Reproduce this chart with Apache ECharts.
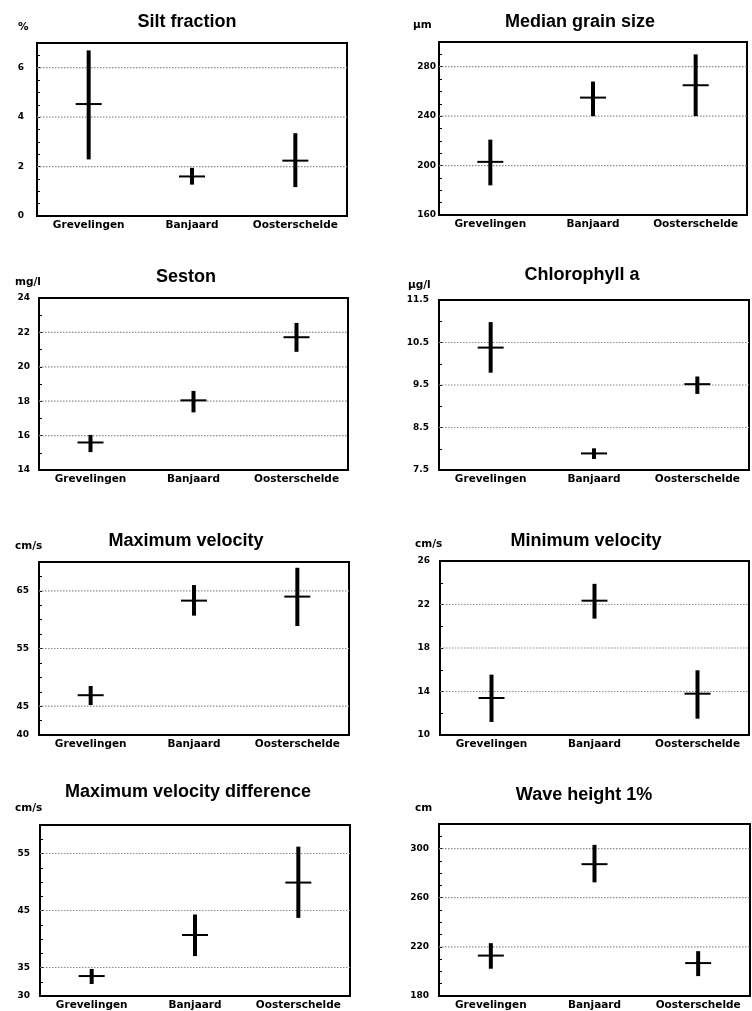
<!DOCTYPE html>
<html>
<head>
<meta charset="utf-8">
<script src="https://cdn.jsdelivr.net/npm/echarts@6/dist/echarts.min.js"></script>
<style>
html,body{margin:0;padding:0;background:#fff;}
#chart{width:752px;height:1011px;}
</style>
</head>
<body>
<div id="chart"></div>
<script>
// ---------- DATA ----------
const categories = ['Grevelingen', 'Banjaard', 'Oosterschelde'];

const titles = ['Silt fraction', 'Median grain size', 'Seston', 'Chlorophyll a',
                'Maximum velocity', 'Minimum velocity', 'Maximum velocity difference', 'Wave height 1%'];
const units = ['%', 'μm', 'mg/l', 'μg/l', 'cm/s', 'cm/s', 'cm/s', 'cm'];

const siltMean = [4.53, 1.60, 2.24];
const siltLow  = [2.29, 1.27, 1.17];
const siltHigh = [6.70, 1.95, 3.35];

const grainMean = [203, 255, 265];
const grainLow  = [184, 240, 240];
const grainHigh = [221, 268, 290];

const sestonMean = [15.60, 18.05, 21.72];
const sestonLow  = [15.04, 17.35, 20.87];
const sestonHigh = [16.04, 18.60, 22.55];

const chlMean = [10.38, 7.89, 9.52];
const chlLow  = [9.79, 7.76, 9.29];
const chlHigh = [10.98, 8.01, 9.70];

const maxVelMean = [46.9, 63.3, 64.0];
const maxVelLow  = [45.2, 60.7, 58.9];
const maxVelHigh = [48.5, 66.0, 69.0];

const minVelMean = [13.4, 22.35, 13.8];
const minVelLow  = [11.2, 20.7, 11.5];
const minVelHigh = [15.55, 23.9, 15.95];

const maxDiffMean = [33.5, 40.7, 49.9];
const maxDiffLow  = [32.1, 37.0, 43.7];
const maxDiffHigh = [34.75, 44.3, 56.2];

const waveMean = [212.9, 287.3, 206.8];
const waveLow  = [202.2, 272.5, 196.2];
const waveHigh = [223.0, 303.0, 216.5];

// axis ranges / tick labels / gridline values
const axisMin   = [0, 160, 14, 7.5, 40, 10, 30, 180];
const axisMax   = [7, 300, 24, 11.5, 70, 26, 60, 320];
const tickStep  = [0.5, 10, 1, 0.5, 2.5, 2, 2.5, 10];
const tickLabels = [
  [0, 2, 4, 6],
  [160, 200, 240, 280],
  [14, 16, 18, 20, 22, 24],
  [7.5, 8.5, 9.5, 10.5, 11.5],
  [40, 45, 55, 65],
  [10, 14, 18, 22, 26],
  [30, 35, 45, 55],
  [180, 220, 260, 300]
];
const gridValues = [
  [2, 4, 6],
  [200, 240, 280],
  [16, 18, 20, 22],
  [8.5, 9.5, 10.5],
  [45, 55, 65],
  [14, 18, 22],
  [35, 45, 55],
  [220, 260, 300]
];

const panels = [
  [siltMean, siltLow, siltHigh],
  [grainMean, grainLow, grainHigh],
  [sestonMean, sestonLow, sestonHigh],
  [chlMean, chlLow, chlHigh],
  [maxVelMean, maxVelLow, maxVelHigh],
  [minVelMean, minVelLow, minVelHigh],
  [maxDiffMean, maxDiffLow, maxDiffHigh],
  [waveMean, waveLow, waveHigh]
];

// ---------- LAYOUT ----------
const boxes = [
  {left: 37,  top: 43,  width: 310, height: 173},
  {left: 439, top: 42,  width: 308, height: 173},
  {left: 39,  top: 298, width: 309, height: 172},
  {left: 439, top: 300, width: 310, height: 170},
  {left: 39,  top: 562, width: 310, height: 173},
  {left: 440, top: 561, width: 309, height: 174},
  {left: 40,  top: 825, width: 310, height: 172},
  {left: 439, top: 824, width: 311, height: 173}
];
const labelMargin = [13, 3, 9, 10, 10, 10, 10, 10];
const titlePos = [[187, 22], [580, 22], [186, 277], [582, 275], [186, 541], [586, 541], [188, 792], [584, 795]];
const unitPos  = [[18, 27], [413, 25], [15, 282], [408, 285], [15, 546], [415, 544], [15, 808], [415, 808]];

const BOLD_FONT = 'DejaVu Sans';

const grids = [], xAxes = [], yAxes = [], series = [], graphics = [];

boxes.forEach((b, i) => {
  grids.push({left: b.left, top: b.top, width: b.width, height: b.height,
              show: true, borderColor: '#000', borderWidth: 2, backgroundColor: 'transparent'});
  xAxes.push({
    type: 'category', gridIndex: i, data: categories, boundaryGap: true,
    axisLine: {lineStyle: {color: '#000', width: 2}},
    axisTick: {inside: true, alignWithLabel: true, length: 5, lineStyle: {color: '#000', width: 1.5}},
    axisLabel: {interval: 0, color: '#000', fontFamily: BOLD_FONT, fontWeight: 'bold', fontSize: 10.5, margin: 4},
    splitLine: {show: false}
  });
  const labs = tickLabels[i];
  yAxes.push({
    type: 'value', gridIndex: i, min: axisMin[i], max: axisMax[i], interval: tickStep[i],
    axisLine: {show: true, lineStyle: {color: '#000', width: 2}},
    axisTick: {show: true, inside: true, length: 3, lineStyle: {color: '#000', width: 1}},
    axisLabel: {
      color: '#000', fontFamily: BOLD_FONT, fontWeight: 'bold', fontSize: 9, margin: labelMargin[i],
      showMinLabel: true, showMaxLabel: true, hideOverlap: false,
      formatter: v => labs.some(l => Math.abs(l - v) < 1e-6) ? String(+(+v).toFixed(2)) : ''
    },
    splitLine: {show: false}
  });
  // dotted gridlines
  series.push({
    type: 'custom', xAxisIndex: i, yAxisIndex: i, silent: true, z: 1,
    data: gridValues[i].map(v => [0, v]),
    encode: {x: 0, y: 1},
    renderItem: (params, api) => {
      const cs = params.coordSys;
      const y = api.coord([0, api.value(1)])[1];
      return {type: 'line', shape: {x1: cs.x, y1: y, x2: cs.x + cs.width, y2: y},
              style: {stroke: '#8c8c8c', lineWidth: 1.2, lineDash: [1.5, 1.5]}};
    }
  });
  // crosses: vertical range + horizontal mean tick
  const [mean, low, high] = panels[i];
  series.push({
    type: 'custom', xAxisIndex: i, yAxisIndex: i, silent: true, z: 5,
    data: categories.map((c, k) => [k, mean[k], low[k], high[k]]),
    encode: {x: 0, y: [1, 2, 3]},
    renderItem: (params, api) => {
      const x = api.value(0);
      const m = api.coord([x, api.value(1)]);
      const lo = api.coord([x, api.value(2)]);
      const hi = api.coord([x, api.value(3)]);
      return {type: 'group', children: [
        {type: 'line', shape: {x1: lo[0], y1: lo[1], x2: hi[0], y2: hi[1]},
         style: {stroke: '#000', lineWidth: 4}},
        {type: 'line', shape: {x1: m[0] - 13, y1: m[1], x2: m[0] + 13, y2: m[1]},
         style: {stroke: '#000', lineWidth: 2}}
      ]};
    }
  });
  graphics.push({
    type: 'text', x: titlePos[i][0], y: titlePos[i][1], silent: true,
    style: {text: titles[i], fill: '#000', font: 'bold 18px "Liberation Sans", Arial, sans-serif',
            align: 'center', verticalAlign: 'middle', textAlign: 'center', textVerticalAlign: 'middle'}
  });
  graphics.push({
    type: 'text', x: unitPos[i][0], y: unitPos[i][1], silent: true,
    style: {text: units[i], fill: '#000', font: 'bold 10.5px "DejaVu Sans", sans-serif',
            align: 'left', verticalAlign: 'middle', textAlign: 'left', textVerticalAlign: 'middle'}
  });
});

const chart = echarts.init(document.getElementById('chart'), null, {renderer: 'canvas'});
chart.setOption({
  animation: false,
  backgroundColor: '#fff',
  grid: grids,
  xAxis: xAxes,
  yAxis: yAxes,
  series: series,
  graphic: graphics
});
</script>
</body>
</html>
